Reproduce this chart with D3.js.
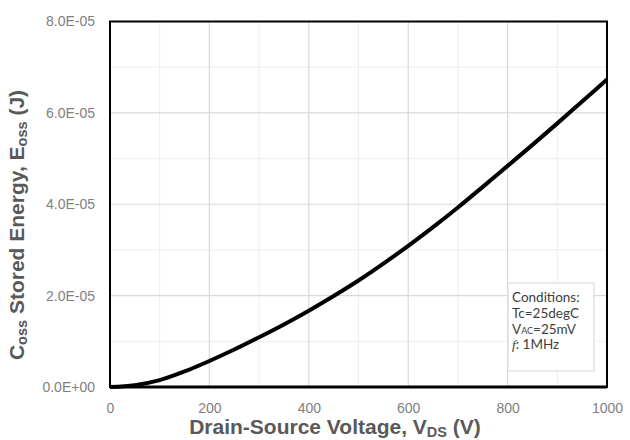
<!DOCTYPE html>
<html>
<head>
<meta charset="utf-8">
<script src="https://cdn.jsdelivr.net/npm/d3@7"></script>
<style>
  body { margin: 0; background: #fff; }
  svg { display: block; font-family: Arial, "Liberation Sans", sans-serif; }
</style>
</head>
<body>
<div id="chart"></div>
<script>
// Data.
var voltage = [0, 50, 100, 150, 200, 250, 300, 350, 400, 450, 500,
               550, 600, 650, 700, 750, 800, 850, 900, 950, 1000];
var energy = [0, 0.04e-5, 0.15e-5, 0.34e-5, 0.57e-5, 0.82e-5, 1.09e-5, 1.37e-5, 1.67e-5, 1.99e-5, 2.33e-5,
              2.70e-5, 3.09e-5, 3.50e-5, 3.93e-5, 4.38e-5, 4.84e-5, 5.30e-5, 5.77e-5, 6.25e-5, 6.73e-5];
var xTicks = [0, 200, 400, 600, 800, 1000];
var xMinor = [100, 300, 500, 700, 900];
var yTicks = [0, 2e-5, 4e-5, 6e-5, 8e-5];
var yMinor = [1e-5, 3e-5, 5e-5, 7e-5];
var conditions = ["Conditions:", "Tc=25degC", "VAC=25mV", "f: 1MHz"];

// Dimensions and margins.
var W = 630, H = 440;
var margin = {top: 21.5, right: 23, bottom: 53, left: 110},
    width = W - margin.left - margin.right,
    height = H - margin.top - margin.bottom;

var svg = d3.select("#chart")
    .append("svg")
    .attr("width", W)
    .attr("height", H);

var g = svg.append("g")
    .attr("transform", "translate(" + margin.left + "," + margin.top + ")");

// Scales.
var x = d3.scaleLinear().domain([0, 1000]).range([0, width]),
    y = d3.scaleLinear().domain([0, 8e-5]).range([height, 0]);

// Gridlines, minor first.
g.selectAll(".xminor").data(xMinor).enter().append("line")
    .attr("x1", d => x(d)).attr("x2", d => x(d))
    .attr("y1", 0).attr("y2", height)
    .attr("stroke", "#eeeeee").attr("stroke-width", 1);
g.selectAll(".yminor").data(yMinor).enter().append("line")
    .attr("y1", d => y(d)).attr("y2", d => y(d))
    .attr("x1", 0).attr("x2", width)
    .attr("stroke", "#eeeeee").attr("stroke-width", 1);
g.selectAll(".xmajor").data(xTicks).enter().append("line")
    .attr("x1", d => x(d)).attr("x2", d => x(d))
    .attr("y1", 0).attr("y2", height)
    .attr("stroke", "#d9d9d9").attr("stroke-width", 1.2);
g.selectAll(".ymajor").data(yTicks).enter().append("line")
    .attr("y1", d => y(d)).attr("y2", d => y(d))
    .attr("x1", 0).attr("x2", width)
    .attr("stroke", "#d9d9d9").attr("stroke-width", 1.2);

// Tick formatter, 8.0E-05 style.
function sci(v) {
    if (v === 0) return "0.0E+00";
    var e = Math.floor(Math.log10(Math.abs(v)));
    var m = v / Math.pow(10, e);
    var s = e < 0 ? "-" : "+";
    var a = Math.abs(e);
    return m.toFixed(1) + "E" + s + (a < 10 ? "0" + a : a);
}

// Axes (labels only).
var xAxis = g.append("g")
    .attr("transform", "translate(0," + height + ")")
    .call(d3.axisBottom(x).tickValues(xTicks).tickFormat(d3.format("d")).tickSize(0).tickPadding(16));
var yAxis = g.append("g")
    .call(d3.axisLeft(y).tickValues(yTicks).tickFormat(sci).tickSize(0).tickPadding(15));
[xAxis, yAxis].forEach(function(a) {
    a.select(".domain").remove();
    a.selectAll("text")
        .attr("fill", "#808080")
        .style("font-size", "14px")
        .style("font-family", "Arial, 'Liberation Sans', sans-serif");
});

// Curve.
var pts = voltage.map((v, i) => [v, energy[i]]);
var line = d3.line()
    .x(d => x(d[0]))
    .y(d => y(d[1]))
    .curve(d3.curveMonotoneX);
g.append("path")
    .datum(pts)
    .attr("d", line)
    .attr("fill", "none")
    .attr("stroke", "#000")
    .attr("stroke-width", 4)
    .attr("stroke-linejoin", "round");

// Plot border.
g.append("rect")
    .attr("x", 0).attr("y", 0)
    .attr("width", width).attr("height", height)
    .attr("fill", "none")
    .attr("stroke", "#000")
    .attr("stroke-width", 2);
g.append("line")
    .attr("x1", 0).attr("x2", width)
    .attr("y1", height).attr("y2", height)
    .attr("stroke", "#000").attr("stroke-width", 3);

// Conditions box, one text per line.
var box = g.append("g").attr("transform", "translate(" + (width - 99) + "," + (height - 104) + ")");
box.append("rect")
    .attr("width", 86).attr("height", 88)
    .attr("fill", "#fff")
    .attr("stroke", "#dcdcdc")
    .attr("stroke-width", 1.2);
conditions.forEach(function(c, i) {
    var ct = box.append("text")
        .attr("x", 4).attr("y", 19 + i * 15.8)
        .attr("fill", "#404040")
        .style("font-family", "Lato, 'Open Sans', sans-serif")
        .style("font-size", "13.5px");
    if (c.indexOf("VAC") === 0) {
        ct.append("tspan").text("V");
        ct.append("tspan").style("font-size", "9px").text("AC");
        ct.append("tspan").text(c.slice(3));
    } else if (c.indexOf("f:") === 0) {
        ct.append("tspan").style("font-style", "italic").style("font-family", "'Liberation Serif', serif").text("f");
        ct.append("tspan").text(c.slice(1));
    } else {
        ct.text(c);
    }
});

// Axis titles.
var xt = svg.append("text")
    .attr("x", 335).attr("y", 434)
    .attr("text-anchor", "middle")
    .attr("fill", "#595959")
    .style("font-weight", "bold")
    .style("font-size", "21px");
xt.append("tspan").text("Drain-Source Voltage, V");
xt.append("tspan").attr("dy", 3).style("font-size", "14.5px").text("DS");
xt.append("tspan").attr("dy", -3).text(" (V)");

var yt = svg.append("text")
    .attr("transform", "translate(24,225) rotate(-90)")
    .attr("text-anchor", "middle")
    .attr("fill", "#595959")
    .style("font-weight", "bold")
    .style("font-size", "21px");
yt.append("tspan").text("C");
yt.append("tspan").attr("dy", 3).style("font-size", "14.5px").text("oss");
yt.append("tspan").attr("dy", -3).text(" Stored Energy, E");
yt.append("tspan").attr("dy", 3).style("font-size", "14.5px").text("oss");
yt.append("tspan").attr("dy", -3).text(" (J)");
</script>
</body>
</html>
